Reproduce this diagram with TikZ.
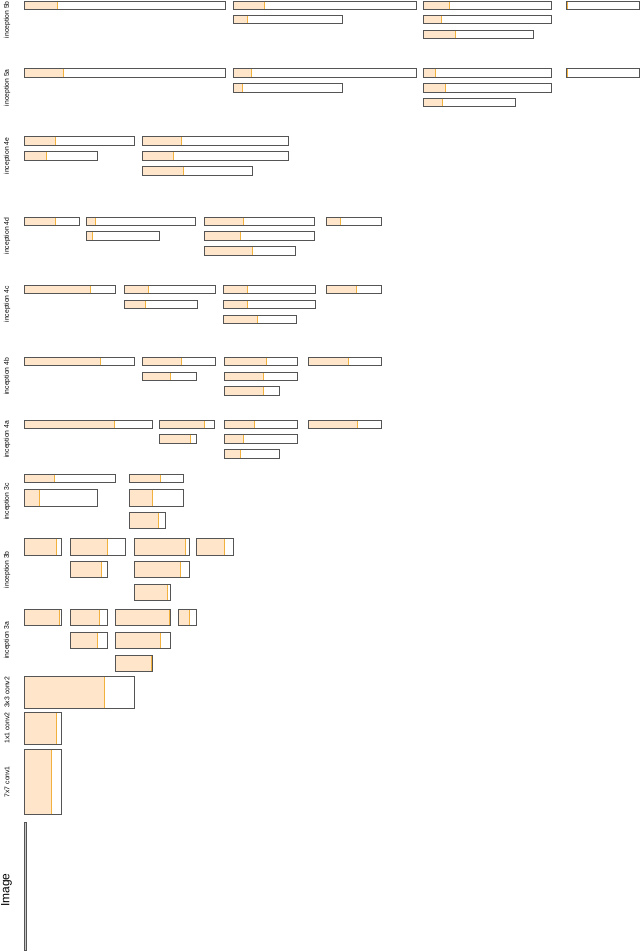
\documentclass[tikz,border=0pt]{standalone}
\usepackage{fontspec}
\setmainfont{Liberation Sans}
\definecolor{fillc}{HTML}{FFE5CA}
\definecolor{orangec}{HTML}{F2B13C}
\definecolor{framec}{HTML}{555555}
\tikzset{
  frame/.style={draw=framec, line width=0.95pt},
  fillpart/.style={fill=fillc},
  edgeline/.style={draw=orangec, line width=0.95pt},
  lab/.style={rotate=90, font=\fontsize{6.8}{7}\selectfont, inner sep=0pt},
  biglab/.style={rotate=90, font=\fontsize{12}{13}\selectfont, inner sep=0pt}
}
\newcommand{\gbox}[5]{%
  \fill[fillpart] (#1,#2) rectangle (#5,#4);
  \draw[edgeline] (#5,#2) -- (#5,#4);
  \draw[frame] (#1,#2) rectangle (#3,#4);}
\begin{document}
\begin{tikzpicture}[x=1pt,y=-1pt]
\useasboundingbox (0,0) rectangle (640,951);
% inception 5b
\gbox{24.3}{1}{225}{9.3}{57.7}
\gbox{233.3}{1}{416}{9.3}{264.3}
\gbox{423.7}{1}{551.7}{9.3}{449.7}
\gbox{566}{1}{639.3}{9.3}{567.3}
\gbox{233.3}{15.3}{342.7}{23.7}{247.3}
\gbox{423.7}{15.3}{551.7}{23.7}{441}
\gbox{423.7}{30}{533.3}{38.3}{455}
\node[lab] (l5b) at (7,19.7) {inception 5b};
% inception 5a
\gbox{24.3}{68.7}{225}{77}{63.7}
\gbox{233.3}{68.7}{416}{77}{251.7}
\gbox{423.7}{68.7}{551.7}{77}{435}
\gbox{566}{68.7}{639.3}{77}{567.3}
\gbox{233.3}{83.3}{342.7}{92}{242.7}
\gbox{423.7}{83.3}{551.7}{92}{445.3}
\gbox{423.7}{98.3}{515}{106.7}{442.7}
\node[lab] (l5a) at (7,87.7) {inception 5a};
% inception 4e
\gbox{24.3}{136.7}{134.3}{145.3}{55.3}
\gbox{142.7}{136.7}{288.7}{145.3}{181.7}
\gbox{24.3}{151.7}{97.7}{160.3}{46.7}
\gbox{142.7}{151.7}{288.7}{160.3}{173.3}
\gbox{142.7}{166.7}{252.3}{175.3}{183.7}
\node[lab] (l4e) at (7,156) {inception 4e};
% inception 4d
\gbox{24.3}{217}{79}{225.3}{55.7}
\gbox{86.3}{217}{195.7}{225.3}{95.7}
\gbox{204}{217}{314}{225.3}{243.7}
\gbox{326.7}{217}{381.7}{225.3}{340.3}
\gbox{86.3}{231.7}{159.3}{240.3}{92.7}
\gbox{204}{231.7}{314}{240.3}{240.7}
\gbox{204}{246.3}{295.7}{255}{252.7}
\node[lab] (l4d) at (7,236) {inception 4d};
% inception 4c
\gbox{24.3}{285.3}{115.3}{293.7}{90.3}
\gbox{124.3}{285.3}{215.3}{293.7}{148.3}
\gbox{223.3}{285.3}{315}{293.7}{247}
\gbox{326.7}{285.3}{381.7}{293.7}{356}
\gbox{124.3}{300.3}{197.3}{308.7}{145.3}
\gbox{223.3}{300.3}{315}{308.7}{247.3}
\gbox{223.3}{315}{296.7}{323.3}{257.3}
\node[lab] (l4c) at (7,304.3) {inception 4c};
% inception 4b
\gbox{24.3}{357.5}{134}{365.8}{100.7}
\gbox{142}{357.5}{215}{365.8}{181}
\gbox{224}{357.5}{297}{365.8}{266}
\gbox{308.7}{357.5}{381.7}{365.8}{348.7}
\gbox{142}{372}{196.7}{380.3}{170.7}
\gbox{224}{372}{297}{380.3}{263.3}
\gbox{224}{386.7}{279}{395}{263.3}
\node[lab] (l4b) at (7,376.3) {inception 4b};
% inception 4a
\gbox{24.3}{420}{152.3}{428.3}{114.3}
\gbox{159.7}{420}{214.3}{428.3}{204.3}
\gbox{224}{420}{297}{428.3}{254}
\gbox{308.7}{420}{381.7}{428.3}{357.7}
\gbox{159.7}{434.7}{196.3}{443}{190}
\gbox{224}{434.7}{297}{443}{243.7}
\gbox{224}{449.7}{279}{458.3}{240.7}
\node[lab] (l4a) at (7,439.2) {inception 4a};
% inception 3c
\gbox{24.3}{474.3}{115.7}{482.7}{54.3}
\gbox{129}{474.3}{183.7}{482.7}{160}
\gbox{24.3}{489.3}{97.7}{506}{39.3}
\gbox{129}{489.3}{183.7}{506}{152.3}
\gbox{129}{512}{165.7}{528.7}{158}
\node[lab] (l3c) at (7,501.5) {inception 3c};
% inception 3b
\gbox{24.3}{538.7}{61.3}{555}{56.7}
\gbox{70}{538.7}{125.3}{555}{107}
\gbox{134}{538.7}{189}{555}{185.3}
\gbox{196.3}{538.7}{233.3}{555}{224}
\gbox{70}{561.3}{107}{577.7}{101.7}
\gbox{134}{561.3}{189}{577.7}{180.7}
\gbox{134}{584}{170.7}{600.7}{167.7}
\node[lab] (l3b) at (7,569.7) {inception 3b};
% inception 3a
\gbox{24.3}{609.3}{61.3}{625.7}{59.3}
\gbox{70}{609.3}{107}{625.7}{99.3}
\gbox{115.7}{609.3}{170.7}{625.7}{169}
\gbox{178.7}{609.3}{196.7}{625.7}{189}
\gbox{70}{632}{107}{648.3}{97}
\gbox{115.7}{632}{170.7}{648.3}{160.3}
\gbox{115.7}{655}{152.3}{671.3}{151.3}
\node[lab] (l3a) at (7,640.3) {inception 3a};
% conv layers
\gbox{24.3}{676}{134.3}{708.7}{104}
\node[lab] (l33) at (7,692.3) {3x3 conv2};
\gbox{24.3}{712}{61.3}{744}{56.7}
\node[lab] (l11) at (7,728) {1x1 conv2};
\gbox{24.3}{749.3}{61.3}{814}{51}
\node[lab] (l77) at (7,781.7) {7x7 conv1};
% image
\draw[frame, fill=gray!45] (24.3,822.7) rectangle (26.7,950.5);
\node[biglab] (limg) at (6.5,890) {Image};
\end{tikzpicture}
\end{document}
